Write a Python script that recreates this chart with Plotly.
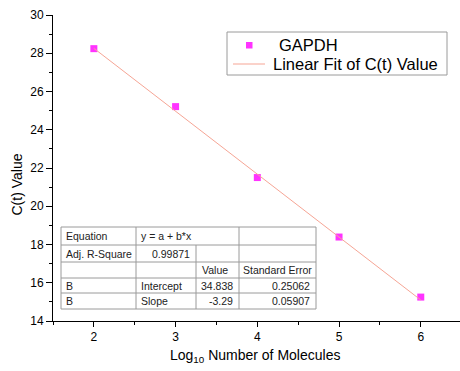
import plotly.graph_objects as go

# ---- data ----
log_molecules = [2, 3, 4, 5, 6]
ct_values = [28.24, 25.21, 21.50, 18.39, 15.25]
intercept = 34.838
slope = -3.29
fit_x = [2, 6]
fit_y = [intercept + slope * x for x in fit_x]

series_names = ["GAPDH", "Linear Fit of C(t) Value"]

table_rows = [
    ["Equation", "y = a + b*x", "", ""],
    ["Adj. R-Square", "0.99871", "", ""],
    ["", "", "Value", "Standard Error"],
    ["B", "Intercept", "34.838", "0.25062"],
    ["B", "Slope", "-3.29", "0.05907"],
]

W, H = 460, 371
ML, MR, MT, MB = 53, 0, 15, 50
PW, PH = W - ML - MR, H - MT - MB
FONT = "Liberation Sans, Arial, sans-serif"
MARKER_COLOR = "#FF33FF"
FIT_COLOR = "#F6A595"


def px(x):
    return (x - ML) / PW


def py(y):
    return (H - MB - y) / PH


fig = go.Figure()
fig.add_trace(go.Scatter(
    x=log_molecules, y=ct_values, mode="markers", name=series_names[0],
    marker=dict(symbol="square", size=7, color=MARKER_COLOR),
    showlegend=False,
))
fig.add_trace(go.Scatter(
    x=fit_x, y=fit_y, mode="lines", name=series_names[1],
    line=dict(color=FIT_COLOR, width=1), showlegend=False,
))

shapes = []
annotations = []
gray = "#9a9a9a"


def line(x0, y0, x1, y1, color=gray):
    shapes.append(dict(type="line", xref="paper", yref="paper",
                       x0=px(x0), y0=py(y0), x1=px(x1), y1=py(y1),
                       line=dict(color=color, width=1)))


# ---- legend (drawn as in the original: tight spacing) ----
shapes.append(dict(type="rect", xref="paper", yref="paper",
                   x0=px(227), x1=px(447), y0=py(32), y1=py(75),
                   fillcolor="white", line=dict(color=gray, width=1)))
shapes.append(dict(type="rect", xref="paper", yref="paper",
                   x0=px(246), x1=px(252.5), y0=py(42), y1=py(48.5),
                   fillcolor=MARKER_COLOR, line=dict(width=0)))
line(233, 64, 265, 64, FIT_COLOR)
annotations.append(dict(text=series_names[0], xref="paper", yref="paper",
                        x=px(277), y=py(45), xanchor="left", yanchor="middle",
                        showarrow=False,
                        font=dict(size=16.5, family=FONT, color="black")))
annotations.append(dict(text=series_names[1], xref="paper", yref="paper",
                        x=px(270.5), y=py(64), xanchor="left", yanchor="middle",
                        showarrow=False,
                        font=dict(size=16.5, family=FONT, color="black")))

# ---- fit parameter table ----
col_edges = [61, 136, 196, 239, 316]
row_edges = [227, 245, 262, 278, 293, 309]

shapes.append(dict(type="rect", xref="paper", yref="paper",
                   x0=px(col_edges[0]), x1=px(col_edges[-1]),
                   y0=py(row_edges[0]), y1=py(row_edges[-1]),
                   fillcolor="white", line=dict(color=gray, width=1)))
for ry in row_edges[1:-1]:
    line(col_edges[0], ry, col_edges[-1], ry)
line(col_edges[1], row_edges[0], col_edges[1], row_edges[-1])
line(col_edges[2], row_edges[1], col_edges[2], row_edges[-1])
line(col_edges[3], row_edges[0], col_edges[3], row_edges[-1])

for r, row in enumerate(table_rows):
    yc = (row_edges[r] + row_edges[r + 1]) / 2
    for c, txt in enumerate(row):
        if not txt:
            continue
        x0, x1 = col_edges[c], col_edges[c + 1]
        if c == 0 or (c == 1 and r != 1):
            xa, xp = "left", x0 + 3
        elif r == 2:
            xa, xp = "center", (x0 + x1) / 2 - (3 if c == 2 else 0)
        else:
            xa, xp = "right", x1 - 4
        annotations.append(dict(
            text=txt, xref="paper", yref="paper", x=px(xp), y=py(yc),
            xanchor=xa, yanchor="middle", showarrow=False,
            font=dict(size=10.5, color="#222222", family=FONT),
        ))

# axis titles
annotations.append(dict(text="C(t) Value", xref="paper", yref="paper",
                        x=px(16.5), y=py(185), textangle=-90, showarrow=False,
                        xanchor="center", yanchor="middle",
                        font=dict(size=14, color="black", family=FONT)))
annotations.append(dict(text="Log<sub>10</sub> Number of Molecules",
                        xref="paper", yref="paper", x=px(255), y=py(356),
                        showarrow=False, xanchor="center", yanchor="middle",
                        font=dict(size=14, color="black", family=FONT)))

fig.update_layout(
    width=W, height=H,
    margin=dict(l=ML, r=MR, t=MT, b=MB),
    paper_bgcolor="white", plot_bgcolor="white",
    font=dict(family=FONT, size=12, color="black"),
    shapes=shapes, annotations=annotations, showlegend=False,
    xaxis=dict(range=[1.5, 6.48], dtick=1, tick0=2, showgrid=False,
               zeroline=False, showline=True, linecolor="black", linewidth=1,
               ticks="outside", ticklen=5, tickcolor="black",
               tickfont=dict(size=12),
               minor=dict(dtick=0.5, tick0=1.5, ticks="outside", ticklen=3,
                          tickcolor="black", showgrid=False)),
    yaxis=dict(range=[14, 30], dtick=2, showgrid=False, zeroline=False,
               showline=True, linecolor="black", linewidth=1,
               ticks="outside", ticklen=6, tickcolor="black",
               tickfont=dict(size=12),
               minor=dict(dtick=1, ticks="outside", ticklen=3,
                          tickcolor="black", showgrid=False)),
)

fig.write_html("out.html")
